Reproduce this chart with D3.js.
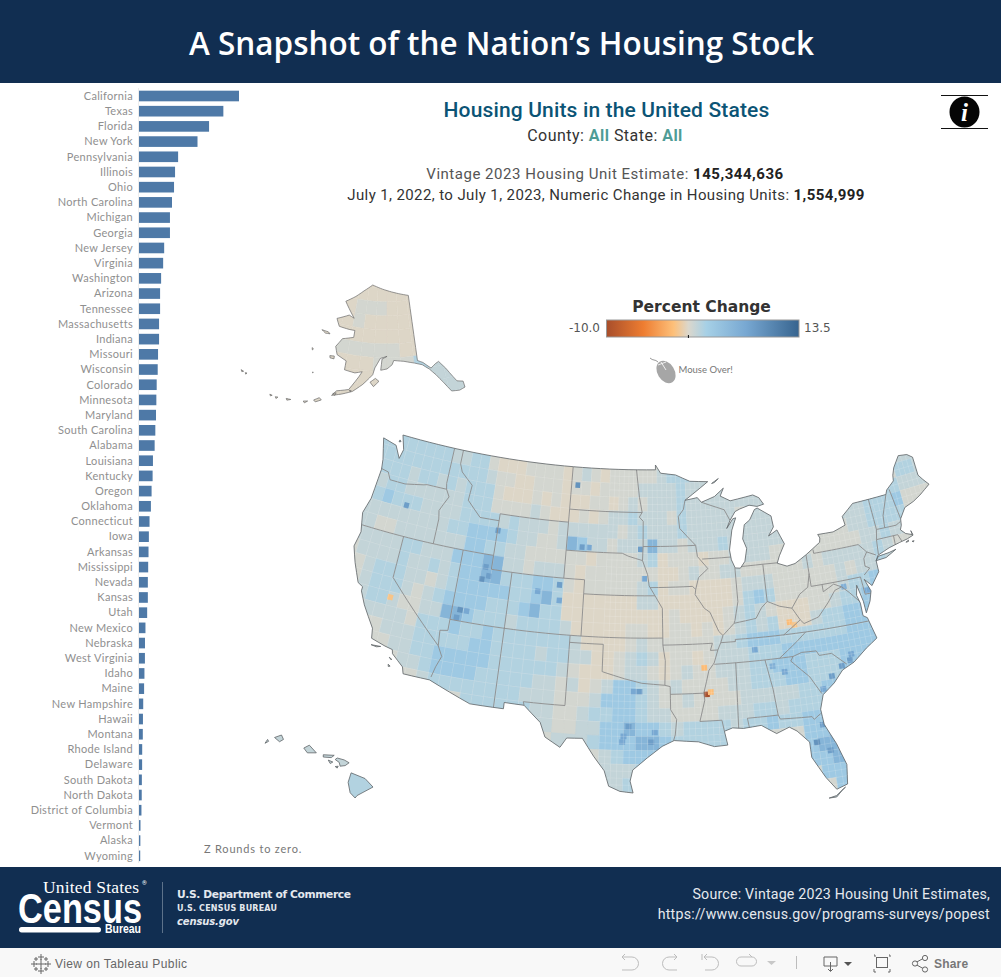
<!DOCTYPE html>
<html>
<head>
<meta charset="utf-8">
<title>A Snapshot of the Nation's Housing Stock</title>
<script src="https://cdn.jsdelivr.net/npm/d3@7"></script>
<style>
  html, body { margin: 0; padding: 0; background: #fff; }
  svg { display: block; }
  text { font-family: "Roboto", sans-serif; }
</style>
</head>
<body>
<div id="chart"></div>
<script>
// ---- bar chart data (housing units, millions) ----
const stateNames = ["California","Texas","Florida","New York","Pennsylvania","Illinois","Ohio","North Carolina","Michigan","Georgia","New Jersey","Virginia","Washington","Arizona","Tennessee","Massachusetts","Indiana","Missouri","Wisconsin","Colorado","Minnesota","Maryland","South Carolina","Alabama","Louisiana","Kentucky","Oregon","Oklahoma","Connecticut","Iowa","Arkansas","Mississippi","Nevada","Kansas","Utah","New Mexico","Nebraska","West Virginia","Idaho","Maine","New Hampshire","Hawaii","Montana","Rhode Island","Delaware","South Dakota","North Dakota","District of Columbia","Vermont","Alaska","Wyoming"];
const stateUnits = [14.7,12.4,10.3,8.6,5.75,5.3,5.15,4.85,4.55,4.55,3.7,3.55,3.25,3.1,3.1,2.95,2.95,2.8,2.75,2.6,2.55,2.5,2.4,2.3,2.05,2.0,1.85,1.75,1.55,1.45,1.4,1.35,1.3,1.3,1.2,0.95,0.88,0.87,0.8,0.75,0.62,0.58,0.56,0.47,0.46,0.42,0.40,0.36,0.22,0.2,0.18];

// ---- legend ----
const legendStops = [-10,-5.5,-1.8,0,2.2,7,13.5];
const legendColors = ["#a84e2b","#ee7d31","#fdc07a","#dbd7cc","#a6d0e6","#78a8d2","#37648f"];

// ---- percent change, one letter per 1 degree cell ----
const codeValues = {a:-0.1, b:0.35, c:1.0, d:1.7, e:3.0, f:5.5, g:8.5};
// rows from lat 49-50 down to 24-25, columns from lon -125 eastward in groups of five
const conusRows = [
 "",
 "ddddd dddcc ddbaa abbbb abcba bbbbb cdddc bbbbb bbbbb bbbbb bbbbb ccc",
 "ddddd ddddd ddcbb aabbb abbab bbbcc ccdcc cccbb bbbbb bbbbb bbbbb ccc",
 "ddddc ddcdc dddba aabab aaabb abcbc ccdcc ccccc cbbbb bbbbb bbbbb ddc",
 "ccddc ccccc dddbb bbcba aabab ccdcc cbdcc cccbc ccbbb bcccc ccddd ccc",
 "cdedd dcccc ddddc dcccb ccccc cbcdc ccdcc ccccc ccbbb bbbcc cddde bbb",
 "ccccc ccccd deeee dccbb cfecc bcccf ccbcc cdccc cccbb bbbbc cdddd bbb",
 "ccbbc ccccc ceedd ccbbb bbbab bbbcd abbba bbccc cbbbb bbbbb ccdcc cbb",
 "ccccc ddccc eeeff ccbcc cbabb bbbbb aabcb bccbb bbbbc bcccc cdcbb bbb",
 "bcccc dccdc deeff dddee dbabb bbbcd abbaa aabcc cbbbb bbcbc cdcbb bbb",
 "bbcdd dccbc deeee eddef daaaa aaacc aaaaa aabde dbbbb bbcdd edbbb bbb",
 "bbcdd dcbcd eeeed ddefd daaaa aaaaa abaaa abcdc baaab bcdde edbbb bbb",
 "bbcdd cbbcc ffedd dcddd dcaaa aabba abbab abcdc daaac ddeee ebbbb bbb",
 "bbbcc ccbdd dedde ddddd ddcaa aabcb bbbbb ccdee edddd ddeee ebbbb bbb",
 "bbbbb cccdd dddee ddddc ddcca abcdc abbab cccdd deeee eeeee bbbbb bbb",
 "bbbbb bccdd eeeee ddddd dcbaa abccb abcbb cccdd eeedd deeeb bbbbb bbb",
 "bbbbb bbccd eeeed ddddc cbcab ceedc bcbbb bccdd deedd deebb bbbbb bbb",
 "bbbbb bbbbc ddddd dddcc cbbbc eeedc bbcbb bbccc ccdde eebbb bbbbb bbb",
 "bbbbb bbbbb bbbdd ddddc cbbcd deedc cbbbb cccdd cdddd ebbbb bbbbb bbb",
 "bbbbb bbbbb bbbbb bbbbc cbbcc eefee dcddd dcdde ddeef bbbbb bbbbb bbb",
 "bbbbb bbbbb bbbbb bbbbb bcccd eeeff edddd deedb bbeef bbbbb bbbbb bbb",
 "bbbbb bbbbb bbbbb bbbbb bbbbb cdeee bbbbb bbbbb bbeff bbbbb bbbbb bbb",
 "bbbbb bbbbb bbbbb bbbbb bbbbb cccde bbbbb bbbbb bbeef bbbbb bbbbb bbb",
 "bbbbb bbbbb bbbbb bbbbb bbbbb ccdbb bbbbb bbbbb bbbee bbbbb bbbbb bbb",
 "bbbbb bbbbb bbbbb bbbbb bbbbb bbbbb bbbbb bbbbb bbbbe bbbbb bbbbb bbb",
 "bbbbb bbbbb bbbbb bbbbb bbbbb bbbbb bbbbb bbbbb bbccc bbbbb bbbbb bbb"
];
// single counties that stand out: lon, lat, percent
const hotCounties = [
 [-90.9,32.9,-10],[-90.55,33.05,-1.9],[-91,34.8,-2],[-83,37.45,-2],[-82.6,37.2,-1.4],[-119.8,37.6,-1.5],
 [-102.5,43.3,8],[-101.8,43.3,7],[-103.4,47.7,9],[-111,43.8,8],[-111.8,40.2,9],[-111.2,40.5,8],[-111.6,41.1,8],
 [-113.3,37.8,9],[-112.7,37.8,7],[-113.5,37.2,8],[-120.5,44.2,8],[-104.4,40.5,8],[-104.3,39.4,7],[-106.4,39.9,7],
 [-96.7,33.2,8],[-97.2,33.2,7],[-97.6,30.7,8],[-98,30,7],[-95.7,29.6,8],[-95.4,30.3,7],[-98.1,29.6,7],
 [-79,33.8,8],[-80,33.2,8],[-80.9,32.4,7],[-78.2,34.1,8],[-78,34.5,7],[-82.1,28.7,9],[-81.4,29.9,8],[-81.1,28,8],
 [-86.4,35.8,7],[-85,34.5,6],[-84,34,7],[-96.7,43.3,8],[-96.3,41.2,7],[-77.5,39.3,6],[-75.4,38.7,7]
];

// ---- outlines, lon/lat ----
const conusLand = [[-124.7,48.4],[-123.2,48.15],[-122.5,47.3],[-122.3,48],[-122.8,49],[-95.15,49],[-95.15,49.35],[-94.6,48.75],[-93,48.6],[-91.5,48.1],[-89.6,48],[-92.1,46.75],[-90.8,46.9],[-90.4,46.55],[-89,46.9],[-88,47.45],[-88.4,46.9],[-87.4,46.5],[-85,46.75],[-84.4,46.5],[-84,46],[-84.7,45.9],[-85.5,46.05],[-86.5,45.85],[-87,45.7],[-87.6,45.1],[-88,44.55],[-87.3,45.2],[-87,45.25],[-87.5,44.4],[-87.9,43],[-87.8,42.3],[-87.5,41.7],[-87,41.65],[-86.5,42.1],[-86.2,43],[-86.5,43.7],[-86.2,44.7],[-85.6,45],[-85,45.7],[-84.7,45.78],[-83.4,45.1],[-83.3,44.3],[-83.9,43.7],[-83,44.05],[-82.45,43],[-83.1,42.2],[-83.4,41.7],[-82.5,41.4],[-81.7,41.5],[-80.5,42],[-79,42.7],[-78.9,43],[-79.05,43.27],[-77.5,43.25],[-76.2,43.55],[-76.3,44.2],[-75,44.95],[-71.5,45],[-71.3,45.3],[-70.4,45.8],[-70.3,46.2],[-70,46.7],[-69.2,47.45],[-68.3,47.35],[-67.8,47.05],[-67.8,45.7],[-67.45,45.3],[-67,44.85],[-68.2,44.3],[-69,44],[-70,43.75],[-70.7,43.05],[-70.8,42.6],[-71,42.3],[-70.6,41.95],[-70,41.75],[-70.05,42.05],[-69.95,41.7],[-70.6,41.55],[-71.4,41.45],[-72.5,41.27],[-73.7,40.95],[-74,40.6],[-74,39.8],[-74.9,38.95],[-75.5,39.5],[-75.1,38.6],[-75.4,37.9],[-75.95,37.15],[-76,38],[-76.3,39.2],[-76.5,38.5],[-76.3,37.9],[-76.3,37],[-75.95,36.8],[-75.5,35.25],[-76.6,34.7],[-77.9,33.9],[-79,33.5],[-79.9,32.7],[-81,32],[-81.4,31],[-81.3,29.9],[-80.55,28.4],[-80,26.8],[-80.2,25.4],[-81.1,25.15],[-81.8,26.1],[-82.7,27.7],[-82.7,28.8],[-83.6,29.7],[-84.2,30.05],[-85.3,29.7],[-86.5,30.4],[-88,30.3],[-88.9,30.4],[-89.6,30.2],[-89.4,29.2],[-90.5,29.15],[-91.8,29.55],[-93.8,29.7],[-94.8,29.3],[-96,28.5],[-97.2,27.6],[-97.4,26.8],[-97.15,25.95],[-98.2,26.05],[-99.1,26.4],[-99.5,27.5],[-100.4,28.5],[-101.4,29.75],[-102.7,29.7],[-103.2,29],[-104.5,29.65],[-105,30.65],[-106.5,31.75],[-108.2,31.78],[-108.2,31.33],[-111.07,31.33],[-114.8,32.5],[-117.12,32.53],[-117.3,33],[-118.4,33.75],[-118.5,34.03],[-119.2,34.15],[-120.5,34.45],[-120.65,35.15],[-121.9,36.6],[-122.5,37.5],[-122.5,37.8],[-123,38],[-123.8,39.3],[-124.35,40.4],[-124.1,41.5],[-124.5,42.85],[-124.1,44],[-123.95,46.2],[-124.1,46.9]];
const conusIslands = [
 [[-74,40.6],[-73,40.65],[-71.9,41.05],[-72.6,40.95],[-73.7,40.87]],
 [[-89.2,47.85],[-88.45,48.17],[-88.9,47.9]],
 [[-120.4,34],[-119.55,34.05],[-119.9,33.95]],[[-118.6,33.45],[-118.35,33.35],[-118.4,33.3]],[[-118.55,32.95],[-118.35,32.85],[-118.5,32.8]],
 [[-70.8,41.35],[-70.5,41.45],[-70.55,41.35]],[[-70.2,41.3],[-70,41.3],[-70.1,41.23]],
 [[-81.8,24.6],[-81.2,24.7],[-80.4,25.2],[-80.6,25.1],[-81.2,24.6]],
 [[-122.95,48.6],[-122.8,48.5],[-123,48.45]]
];
const stateLines = [
 [[-124,46.25],[-123.2,46.15],[-122.8,45.65],[-121.2,45.65],[-119.3,45.93],[-118.98,46],[-116.92,46]],
 [[-117.03,49],[-117.04,46.4],[-116.92,46],[-116.5,45.5],[-116.9,44.9],[-117.2,44.4],[-117.03,43.8],[-117.03,42]],
 [[-124.2,42],[-111.05,42]],[[-120,42],[-120,39],[-114.63,35],[-114.15,34.3],[-114.5,33.5],[-114.72,32.72]],
 [[-114.63,35],[-114.75,36.1],[-114.05,36.2]],[[-114.05,42],[-114.05,36.2]],[[-114.05,37],[-94.62,37]],
 [[-109.05,41],[-109.05,31.33]],[[-111.05,41],[-111.05,45]],[[-111.05,41],[-102.05,41]],
 [[-111.05,44.5],[-113,44.5],[-114.5,45.55],[-114.4,46.65],[-115.7,47.45],[-116.05,48],[-116.05,49]],
 [[-111.05,45],[-104.05,45]],[[-104.05,49],[-104.05,41]],[[-102.05,41],[-102.05,37]],[[-102.05,40],[-95.3,40]],
 [[-103.04,37],[-103.04,32],[-106.6,32],[-106.5,31.75]],
 [[-103.04,36.5],[-100,36.5],[-100,34.56],[-98,34.1],[-96.5,33.8],[-94.5,33.65],[-94.04,33.55],[-94.04,31.9],[-93.55,31.2],[-93.7,30.1],[-93.85,29.7]],
 [[-94.62,37],[-94.62,36.5],[-94.43,35.4],[-94.5,33.65]],[[-94.62,36.5],[-90.15,36.5],[-90.37,36],[-89.7,36]],
 [[-94.62,37],[-94.62,39.1],[-95.3,40],[-95.85,40.7],[-96,41.5],[-96.5,42.5]],[[-95.77,40.58],[-91.73,40.6],[-91.42,40.38]],
 [[-104.05,43],[-98.5,43],[-97.9,42.8],[-96.5,42.5],[-96.45,43.5],[-96.45,45.3],[-96.85,45.6],[-96.56,45.93],[-96.85,47],[-97.2,49]],
 [[-104.05,45.94],[-96.56,45.93]],[[-96.45,43.5],[-91.22,43.5]],
 [[-92.1,46.75],[-92.3,46.1],[-92.85,45.6],[-92.75,44.75],[-91.22,43.5],[-91.1,42.7],[-90.15,41.8],[-91.1,41.2],[-91.42,40.38],[-91.5,40],[-90.7,39],[-90.2,38.7],[-89.5,37.3],[-89.15,37],[-89.4,36.5],[-89.7,36],[-90.1,35.1],[-90.6,34.6],[-91.15,33],[-91.1,32.5],[-91.6,31],[-89.75,31],[-89.6,30.2]],
 [[-94.04,33],[-91.15,33]],[[-90.65,42.5],[-87.8,42.5]],[[-90.4,46.55],[-88.1,45.9],[-87.6,45.1]],
 [[-87.53,41.7],[-87.53,39.3],[-87.95,38],[-88.05,37.8]],
 [[-89.15,37],[-88.05,37.8],[-87,37.9],[-86,38],[-85.4,38.7],[-84.8,39.1],[-83.7,38.65],[-82.6,38.4],[-82,39],[-81.7,39.3],[-80.85,39.7],[-80.52,40.64]],
 [[-87,41.76],[-84.8,41.76],[-83.4,41.73]],[[-84.8,41.76],[-84.8,39.1]],[[-80.52,42],[-80.52,39.72],[-75.79,39.72]],
 [[-79.76,42.27],[-79.76,42],[-75.35,42],[-74.7,41.36],[-73.9,41]],[[-74.7,41.36],[-75.1,40.95],[-75.15,40.4],[-74.75,40.2],[-75.4,39.8]],
 [[-73.65,41],[-73.5,42.05],[-73.27,42.75],[-73.35,45]],[[-73.5,42.05],[-71.38,42.02],[-71.15,41.5]],[[-71.8,42.02],[-71.85,41.32]],
 [[-73.27,42.75],[-71.3,42.7],[-70.8,42.87]],[[-72.45,42.73],[-72.3,43.6],[-71.5,45]],[[-70.7,43.07],[-71.05,45.3]],
 [[-75.79,39.72],[-75.7,38.46],[-75.05,38.45]],[[-79.48,39.72],[-79.48,39.2],[-78.4,39.6],[-77.7,39.3],[-77.1,38.8],[-76.3,38]],
 [[-77.75,39.3],[-78.4,39.15],[-79.2,38.4],[-80.3,37.5],[-81.7,37.2],[-82,37.5],[-82.6,38.4]],[[-82,37.5],[-83.67,36.6]],
 [[-75.9,36.55],[-81.68,36.59],[-88.07,36.65],[-88.07,36.5],[-89.4,36.5]],[[-81.68,36.59],[-82.6,36],[-84.3,35]],
 [[-90.1,35],[-83.1,35],[-82.3,35.2],[-81,35.15],[-80.8,34.8],[-79.7,34.8],[-78.55,33.86]],
 [[-83.1,35],[-83.35,34.7],[-81.9,33.4],[-81.1,32.1]],[[-85.6,35],[-85.18,32.87],[-85,31],[-84.86,30.7],[-82.2,30.57],[-82.05,30.36],[-81.45,30.7]],
 [[-87.6,31],[-85,31]],[[-87.6,31],[-87.5,30.3]],[[-88.2,35],[-88.4,30.3]]
];
const alaskaLand = [[-156.5,71.3],[-152,70.8],[-148,70.4],[-144,70],[-141,69.7],[-141,60.3],[-139.5,59.9],[-137.5,58.9],[-136,59.4],[-135,59.6],[-133.5,58.4],[-131.5,56.2],[-130,55.9],[-130,55],[-131.5,54.8],[-133.5,55],[-135,56.5],[-136.5,57.8],[-138,58.8],[-139.8,59.6],[-142,60],[-145,60.4],[-148,60.6],[-148.5,60],[-150,59.4],[-151.8,59.2],[-151.5,60.8],[-150,61.2],[-152,60.9],[-153.5,59.5],[-154,58.5],[-156.5,57],[-159,55.8],[-161.5,55.2],[-164,54.7],[-163,55.5],[-160,56],[-157.8,58],[-157,58.8],[-159,58.5],[-162,58.7],[-162,60],[-165,60.6],[-166,61.7],[-164.5,63],[-161,63.5],[-161,64.5],[-163,64.5],[-166.5,64.6],[-168,65.6],[-164,66.5],[-162,66.2],[-163.7,67],[-166.5,68.3],[-163,69.3],[-160,70.3]];
const alaskaIslands = [
 [[-154.6,57.4],[-153.2,58],[-152.2,57.6],[-153.6,56.8]],[[-171.7,63.4],[-169.5,63.4],[-168.8,63.2],[-170.3,63.1]],[[-167,60.2],[-165.7,60.3],[-165.6,59.9],[-166.8,59.9]],
 [[-168,53.4],[-166.8,53.95],[-166.2,53.7],[-167.5,53.2]],[[-170.3,52.8],[-169.3,53],[-169.9,52.6]],[[-174.3,52.3],[-173.2,52.4],[-174,52.1]],[[-176.8,51.9],[-176.2,52],[-176.5,51.7]],[[-178.2,51.9],[-177.6,51.9],[-177.9,51.7]],[[-186.9,52.95],[-186.2,52.95],[-186.5,52.75]],[[-185.7,52.9],[-185.3,53],[-185.4,52.75]],[[-163.8,55],[-163,55.2],[-163.2,54.8]],[[-172.7,60.5],[-172.2,60.4],[-172.4,60.2]],[[-170.4,57.2],[-170.1,57.2],[-170.2,57.1]],[[-159.8,55.9],[-159.3,55.9],[-159.5,55.7]]
];
// rows from lat 71-73 down to lat 51-53, 4 degree cells from lon -190
const alaskaRows = [
 "aaaaa aaaaa aaaaa",
 "aaaaa aaaaa aaaaa",
 "aaaaa aabbb aaaaa",
 "aaaaa aabaa aaaaa",
 "aaaaa aaaaa aaaaa",
 "aaaaa abbbb baaaa",
 "aaaaa aaaab bbdcc",
 "aaaaa aaaaa aabcc",
 "aaaaa aaaaa aaacc",
 "aaaaa aaaaa aaacc",
 "aaaaa aaaaa aaaaa"
];
const hawaiiIslands = [
 {code:"d", shape:[[-155.9,20.25],[-155.2,19.95],[-154.8,19.5],[-155.6,19.05],[-155.7,18.92],[-155.95,19.2],[-156.05,19.75]]},
 {code:"c", shape:[[-156.7,20.95],[-156.6,21.03],[-156.25,20.93],[-156,20.78],[-156.2,20.63],[-156.45,20.6],[-156.5,20.8]]},
 {code:"c", shape:[[-157.3,21.2],[-156.75,21.17],[-156.9,21.05],[-157.3,21.08]]},
 {code:"c", shape:[[-157.05,20.92],[-156.82,20.82],[-156.95,20.74]]},
 {code:"c", shape:[[-156.7,20.58],[-156.55,20.6],[-156.6,20.5]]},
 {code:"c", shape:[[-158.28,21.55],[-158,21.7],[-157.65,21.3],[-158.1,21.3]]},
 {code:"c", shape:[[-159.75,22.1],[-159.4,22.23],[-159.3,22],[-159.5,21.88]]},
 {code:"c", shape:[[-160.23,21.8],[-160.1,22],[-160.05,21.9]]}
];

// ---- colour scale ----
const color = d3.scaleLinear().domain(legendStops).range(legendColors).clamp(true);

const width = 1001, height = 977;
const svg = d3.select("#chart").append("svg").attr("width", width).attr("height", height);

function txt(x, y, str, o = {}) {
  return svg.append("text").attr("x", x).attr("y", y)
    .attr("text-anchor", o.anchor || "start")
    .style("font-family", o.font || null).style("font-size", o.size + "px")
    .style("font-weight", o.weight || 400).style("font-style", o.italic ? "italic" : null)
    .style("letter-spacing", o.ls || null)
    .attr("fill", o.fill || "#333").text(str);
}

// ---- header / footer bands ----
svg.append("rect").attr("width", width).attr("height", 83).attr("fill", "#112e51");
svg.append("rect").attr("y", 867).attr("width", width).attr("height", 81).attr("fill", "#112e51");
svg.append("rect").attr("y", 948).attr("width", width).attr("height", 29).attr("fill", "#f8f8f8");
txt(501.5, 55, "A Snapshot of the Nation\u2019s Housing Stock", {anchor:"middle", size:32, weight:600, fill:"#fff", font:"Open Sans"})
  .attr("textLength", 625).attr("lengthAdjust", "spacingAndGlyphs");

// ---- bar chart ----
const xBar = d3.scaleLinear().domain([0, d3.max(stateUnits)]).range([139, 239]);
const yBar = d3.scaleBand().domain(stateNames).range([88, 863]).paddingInner(0.3).paddingOuter(0.15);
svg.append("line").attr("x1", 138.5).attr("x2", 138.5).attr("y1", 88).attr("y2", 863).attr("stroke", "#eee");
svg.append("g").selectAll("rect").data(stateNames).join("rect")
  .attr("x", xBar(0))
  .attr("y", d => yBar(d) + 0.4)
  .attr("width", (d, i) => xBar(stateUnits[i]) - xBar(0))
  .attr("height", yBar.bandwidth())
  .attr("fill", "#4e79a7");
svg.append("g").selectAll("text").data(stateNames).join("text")
  .attr("x", 133)
  .attr("y", d => yBar(d) + yBar.bandwidth() / 2 + 4.2)
  .attr("text-anchor", "end")
  .style("font-family", "Lato").style("font-size", "11px").style("letter-spacing", "0.3px")
  .attr("fill", "#8f8f8f").text(d => d);
txt(204, 853, "Z Rounds to zero.", {size:11, font:"Lato", fill:"#777", ls:"0.8px"});

// ---- headings ----
txt(606.5, 117, "Housing Units in the United States", {anchor:"middle", size:21, weight:500, fill:"#0b5475", font:"Roboto", ls:"0.15px"});
const countyLine = txt(605, 141, "", {anchor:"middle", size:16, fill:"#333", ls:"0.47px"});
[["County: ",0],["All",1],[" State: ",0],["All",1]].forEach(([s, on]) => {
  countyLine.append("tspan").text(s).style("font-weight", on ? 700 : 400).attr("fill", on ? "#4f9c96" : "#333");
});
const lineOne = txt(605, 179, "Vintage 2023 Housing Unit Estimate: ", {anchor:"middle", size:15, fill:"#555", ls:"0.52px"});
lineOne.append("tspan").text("145,344,636").style("font-weight", 700).attr("fill", "#222");
const lineTwo = txt(606, 200, "July 1, 2022, to July 1, 2023, Numeric Change in Housing Units: ", {anchor:"middle", size:15, fill:"#333", ls:"0.385px"});
lineTwo.append("tspan").text("1,554,999").style("font-weight", 700).attr("fill", "#222");

// ---- info icon ----
svg.append("line").attr("x1", 941).attr("x2", 988).attr("y1", 95.5).attr("y2", 95.5).attr("stroke", "#111");
svg.append("line").attr("x1", 941).attr("x2", 988).attr("y1", 128.5).attr("y2", 128.5).attr("stroke", "#111");
svg.append("ellipse").attr("cx", 964.5).attr("cy", 112).attr("rx", 15).attr("ry", 15.5).attr("fill", "#050505");
txt(964.5, 121, "i", {anchor:"middle", size:25, weight:700, italic:true, fill:"#fff", font:"Liberation Serif"});

// ---- legend ----
const xLegend = d3.scaleLinear().domain([-10, 13.5]).range([606.5, 799]);
const grad = svg.append("defs").append("linearGradient").attr("id", "legendGrad");
legendStops.forEach((v, i) => {
  grad.append("stop").attr("offset", (xLegend(v) - xLegend(-10)) / (xLegend(13.5) - xLegend(-10))).attr("stop-color", legendColors[i]);
});
txt(701.5, 312, "Percent Change", {anchor:"middle", size:15.5, weight:700, font:"DejaVu Sans", fill:"#333"});
svg.append("rect").attr("x", xLegend(-10)).attr("y", 320).attr("width", xLegend(13.5) - xLegend(-10)).attr("height", 17)
  .attr("fill", "url(#legendGrad)").attr("stroke", "#999");
svg.append("line").attr("x1", xLegend(0)).attr("x2", xLegend(0)).attr("y1", 335).attr("y2", 338).attr("stroke", "#111");
txt(600, 332, "-10.0", {anchor:"end", size:12, font:"DejaVu Sans", fill:"#555"});
txt(804, 332, "13.5", {size:12, font:"DejaVu Sans", fill:"#555"});

// mouse icon
svg.append("path").attr("d", "M650 358c3 3 5 1 8 4").attr("fill", "none").attr("stroke", "#999");
svg.append("ellipse").attr("cx", 666).attr("cy", 372).attr("rx", 8.5).attr("ry", 12).attr("transform", "rotate(-32 666 372)").attr("fill", "#a6a6a6");
svg.append("path").attr("d", "M658 365l8 -3M661 362l5 8").attr("stroke", "#fff").attr("stroke-width", 0.8);
txt(678.5, 373, "Mouse Over!", {size:9.5, font:"Lato", fill:"#777"});

// ---- maps ----
// projection fitted to two reference points per axis, the map is a bit taller than plain Albers
function fitted(base, lonA, xA, lonB, xB, latA, yA, latB, yB) {
  const sx = d3.scaleLinear().domain([base(lonA)[0], base(lonB)[0]]).range([xA, xB]);
  const sy = d3.scaleLinear().domain([base(latA)[1], base(latB)[1]]).range([yA, yB]);
  return p => { const q = base(p); return [sx(q[0]), sy(q[1])]; };
}
const conusProj = fitted(
  d3.geoAlbers().rotate([96, 0]).center([0, 37.5]).parallels([29.5, 45.5]).scale(1000).translate([0, 0]),
  [-67, 44.85], 929, [-124.35, 40.4], 354, [-97.15, 25.95], 793, [-95.15, 49.35], 465);
const alaskaProj = fitted(
  d3.geoConicEqualArea().rotate([150, 0]).parallels([58, 72]).center([0, 60]).scale(1000).translate([0, 0]),
  [-130, 55], 465, [-168, 65.6], 337, [-156.5, 71.3], 285, [-130, 55], 387);
const hawaiiProj = fitted(
  d3.geoMercator().rotate([157, 0]).scale(1000).translate([0, 0]),
  [-160.23, 21.8], 265, [-154.8, 19.5], 373, [-155.7, 18.92], 798, [-159.4, 22.23], 735);

// walks each edge in small steps so that long straight borders follow the projection curve
function densify(points, step = 1) {
  const out = [];
  points.forEach((p, i) => {
    if (i === 0) { out.push(p); return; }
    const a = points[i - 1], n = Math.ceil(Math.max(Math.abs(p[0] - a[0]), Math.abs(p[1] - a[1])) / step);
    for (let k = 1; k <= n; k++) out.push([a[0] + (p[0] - a[0]) * k / n, a[1] + (p[1] - a[1]) * k / n]);
  });
  return out;
}
const lineGen = d3.line();
const ringPath = (ring, proj) => lineGen(densify([...ring, ring[0]]).map(proj)) + "Z";
const openPath = (pts, proj) => lineGen(densify(pts).map(proj));
const cellRing = (lon, lat, dLon, dLat) => [[lon, lat], [lon + dLon, lat], [lon + dLon, lat + dLat], [lon, lat + dLat]];

function gridCells(rows, lon0, latTop, dLon, dLat) {
  const cells = [];
  rows.forEach((row, r) => {
    [...row.replace(/ /g, "")].forEach((ch, c) => {
      cells.push({ ring: cellRing(lon0 + c * dLon, latTop - r * dLat, dLon, dLat), value: codeValues[ch] });
    });
  });
  return cells;
}

const defs = svg.select("defs");
const conusD = [conusLand, ...conusIslands].map(r => ringPath(r, conusProj)).join("");
defs.append("clipPath").attr("id", "conusClip").append("path").attr("d", conusD);
const alaskaD = [alaskaLand, ...alaskaIslands].map(r => ringPath(r, alaskaProj)).join("");
defs.append("clipPath").attr("id", "alaskaClip").append("path").attr("d", alaskaD);

// contiguous states
svg.append("path").attr("d", conusD).attr("fill", color(codeValues.b));
const conusG = svg.append("g").attr("clip-path", "url(#conusClip)");
conusG.selectAll("path.cell").data(gridCells(conusRows, -125, 49, 1, 1)).join("path")
  .attr("class", "cell").attr("d", d => ringPath(d.ring, conusProj))
  .attr("fill", d => color(d.value)).attr("stroke", d => color(d.value)).attr("stroke-width", 0.4);
conusG.selectAll("path.hot").data(hotCounties).join("path")
  .attr("class", "hot").attr("d", d => ringPath(cellRing(d[0] - 0.25, d[1] - 0.2, 0.5, 0.4), conusProj))
  .attr("fill", d => color(d[2]));
// thin pale county-like mesh, finer in the east
const meshLines = [];
d3.range(-125, -100, 1).forEach(lon => meshLines.push([[lon, 31], [lon, 49]]));
d3.range(-100, -67, 0.5).forEach(lon => meshLines.push([[lon, 25], [lon, 49]]));
d3.range(31, 49, 1).forEach(lat => meshLines.push([[-125, lat], [-100, lat]]));
d3.range(25, 49, 0.5).forEach(lat => meshLines.push([[-100, lat], [-67, lat]]));
conusG.append("path").attr("d", meshLines.map(l => openPath(l, conusProj)).join(""))
  .attr("fill", "none").attr("stroke", "#fff").attr("stroke-opacity", 0.25).attr("stroke-width", 0.6);
conusG.append("path").attr("d", stateLines.map(l => openPath(l, conusProj)).join(""))
  .attr("fill", "none").attr("stroke", "#8b8b8b").attr("stroke-width", 0.9);
svg.append("path").attr("d", conusD).attr("fill", "none").attr("stroke", "#5f6468").attr("stroke-width", 0.8);

// Alaska
const alaskaG = svg.append("g").attr("clip-path", "url(#alaskaClip)");
alaskaG.selectAll("path").data(gridCells(alaskaRows, -190, 71, 4, 2)).join("path")
  .attr("d", d => ringPath(d.ring, alaskaProj))
  .attr("fill", d => color(d.value)).attr("stroke", d => color(d.value)).attr("stroke-width", 0.4);
svg.append("path").attr("d", alaskaD).attr("fill", "none").attr("stroke", "#6a6a6a").attr("stroke-width", 0.7);

// Hawaii
svg.append("g").selectAll("path").data(hawaiiIslands).join("path")
  .attr("d", d => ringPath(d.shape, hawaiiProj))
  .attr("fill", d => color(codeValues[d.code])).attr("stroke", "#5f6468").attr("stroke-width", 0.8);

// ---- footer logo and text ----
txt(43, 893, "United States", {size:17.5, font:"Liberation Serif", fill:"#fff"}).attr("textLength", 96);
txt(142, 885, "\u00ae", {size:6, fill:"#fff"});
txt(18, 923, "Census", {size:43, weight:700, font:"Liberation Sans", fill:"#fff"}).attr("textLength", 124).attr("lengthAdjust", "spacingAndGlyphs");
svg.append("rect").attr("x", 19).attr("y", 927).attr("width", 82).attr("height", 5.5).attr("rx", 2.7).attr("fill", "#fff");
txt(105, 933, "Bureau", {size:12, weight:700, font:"Liberation Sans", fill:"#fff"}).attr("textLength", 36).attr("lengthAdjust", "spacingAndGlyphs");
svg.append("line").attr("x1", 162.5).attr("x2", 162.5).attr("y1", 882).attr("y2", 933).attr("stroke", "#5d728a");
txt(177, 898, "U.S. Department of Commerce", {size:10.7, weight:700, font:"DejaVu Sans", fill:"#e4e8ee"}).attr("textLength", 174);
txt(177, 911, "U.S. CENSUS BUREAU", {size:8, weight:700, font:"DejaVu Sans", fill:"#e4e8ee"}).attr("textLength", 100);
txt(177, 925, "census.gov", {size:10, weight:700, italic:true, font:"DejaVu Sans", fill:"#e4e8ee"}).attr("textLength", 62);
txt(990, 899, "Source: Vintage 2023 Housing Unit Estimates,", {anchor:"end", size:14.2, fill:"#e6e9ee", ls:"0.2px"});
txt(990, 919, "https://www.census.gov/programs-surveys/popest", {anchor:"end", size:14.2, fill:"#e6e9ee", ls:"0.25px"});

// ---- toolbar ----
const toolbar = svg.append("g").attr("fill", "none").attr("stroke", "#bdbdbd").attr("stroke-width", 1);
toolbar.append("path").attr("d", "M622 957h10a5 5 0 0 1 0 13h-10M622 957l3 -3M622 957l3 3");
toolbar.append("path").attr("d", "M677 957h-8a6 6 0 0 0 0 13h8M677 957l-3 -3M677 957l-3 3");
toolbar.append("path").attr("d", "M702 954v6M704 957h8a5 5 0 0 1 0 13h-7M704 957l3 -3M704 957l3 3");
toolbar.append("path").attr("d", "M752 957h-11a4 4 0 0 0 0 9h11a4 4 0 0 0 0 -9M752 957l-3 -3");
svg.append("path").attr("d", "M767 961h9l-4.5 4z").attr("fill", "#c8c8c8");
toolbar.append("line").attr("x1", 796.5).attr("x2", 796.5).attr("y1", 956).attr("y2", 969);
const dark = svg.append("g").attr("fill", "none").attr("stroke", "#666").attr("stroke-width", 1);
dark.append("path").attr("d", "M824 957h13v9h-13zM830.5 962v9M828 969l2.5 2.5l2.5 -2.5");
svg.append("path").attr("d", "M844 962h8l-4 4z").attr("fill", "#555");
dark.append("path").attr("d", "M875 957v-2h-1M889 955h1v2M874 969v3h2M888 972h2v-3");
dark.append("rect").attr("x", 876.5).attr("y", 957.5).attr("width", 11).attr("height", 10);
dark.append("path").attr("d", "M915 963l9 -5M915 964l9 5");
[[915, 963.5], [925, 958], [925, 969.5]].forEach(c => dark.append("circle").attr("cx", c[0]).attr("cy", c[1]).attr("r", 2.6).attr("fill", "#f8f8f8"));
txt(934, 968, "Share", {size:12, weight:700, font:"Liberation Sans", fill:"#777", ls:"0.2px"});
txt(55, 968, "View on Tableau Public", {size:12, font:"Liberation Sans", fill:"#666", ls:"0.4px"});
const tabIcon = svg.append("g").attr("stroke", "#666").attr("stroke-width", 1);
[[41, 964, 5], [34, 964, 3], [48, 964, 3], [41, 957, 3], [41, 971, 3], [36, 959, 2], [46, 959, 2], [36, 969, 2], [46, 969, 2]].forEach(([x, y, r]) => {
  tabIcon.append("path").attr("d", `M${x - r} ${y}h${2 * r}M${x} ${y - r}v${2 * r}`);
});
</script>
</body>
</html>
